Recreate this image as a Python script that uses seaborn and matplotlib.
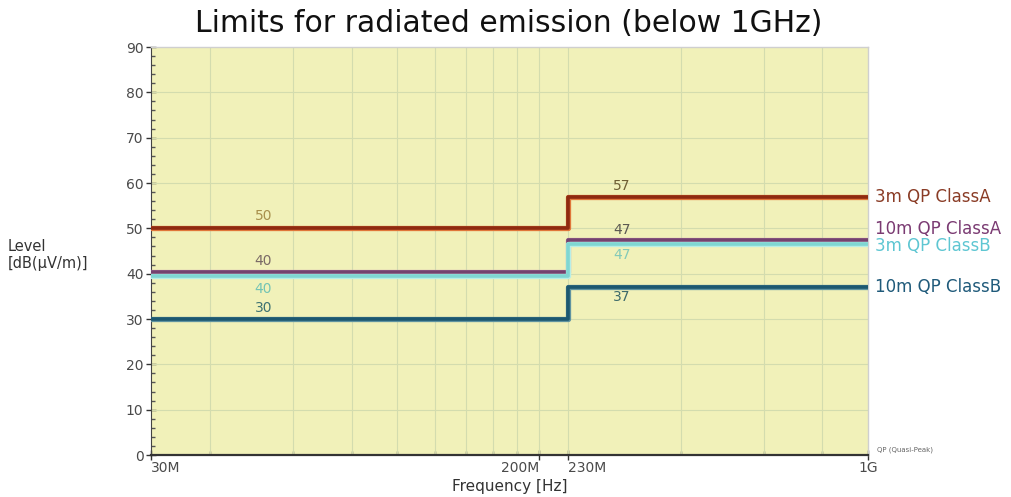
import pandas as pd
import matplotlib.pyplot as plt
import matplotlib.transforms as mtransforms
import matplotlib.patheffects as pe
import seaborn as sns

# limit lines: level below 230MHz, level from 230MHz up to 1GHz
series = ['3m QP ClassA', '10m QP ClassA', '3m QP ClassB', '10m QP ClassB']
low_levels = [50, 40, 40, 30]
high_levels = [57, 47, 47, 37]
freqs_mhz = [30, 230, 1000]   # start, step, end

xtick_vals = [30, 200, 230, 1000]
xtick_labels = ['30M', '200M', '230M', '1G']
grid_freqs = [40, 60, 80, 100, 120, 140, 160, 180, 200, 230, 400, 600, 800]

line_colors = ['#8e2a10', '#74426e', '#7fd6d2', '#1c5870']
glow_colors = ['#e0763a', '#c898b8', '#b8eee6', '#5f93a0']
name_colors = ['#8a3c26', '#7a3a72', '#5ec6d2', '#1f5a7a']
low_txt_colors = ['#a8904c', '#7a6a66', '#74c4b4', '#3d7272']
high_txt_colors = ['#6e5e34', '#5c5a52', '#84cab8', '#3d6a6a']

rows = []
for name, lo, hi in zip(series, low_levels, high_levels):
    for f, v in zip(freqs_mhz, [lo, hi, hi]):
        rows.append({'series': name, 'freq': f, 'level': v})
df = pd.DataFrame(rows)

sns.set_style("white")
plt.rcParams['font.family'] = ['DejaVu Sans']

fig = plt.figure(figsize=(10.11, 4.97), dpi=100)
ax = fig.add_axes([0.1494, 0.0845, 0.7092, 0.8209])
ax.set_facecolor('#f1f1b9')

sns.lineplot(data=df, x='freq', y='level', hue='series', hue_order=series,
             palette=line_colors, drawstyle='steps-post', linewidth=2.6,
             legend=False, ax=ax, zorder=3)

ax.set_xscale('log')
ax.set_xlim(30, 1000)
ax.set_ylim(0, 90)

# glow + slight separation of the two overlapping 40/47 lines
shifts = [0, 1.5, -2.0, 0]
for line, glow, dy in zip(ax.get_lines(), glow_colors, shifts):
    line.set_path_effects([pe.Stroke(linewidth=3.8, foreground=glow), pe.Normal()])
    if dy:
        line.set_transform(mtransforms.offset_copy(line.get_transform(), fig=fig, y=dy, units='dots'))

# grid
for f in grid_freqs:
    ax.axvline(f, color='#d3dcae', lw=0.8, zorder=1)
for y in range(10, 90, 10):
    ax.axhline(y, color='#d3dcae', lw=0.8, zorder=1)

# ticks
ax.set_xticks(xtick_vals)
ax.set_xticklabels(xtick_labels)
ax.set_xticks(grid_freqs, minor=True)
ax.xaxis.set_minor_formatter(plt.NullFormatter())
for lbl, ha in zip(ax.get_xticklabels(), ['left', 'right', 'left', 'center']):
    lbl.set_ha(ha)
ax.set_yticks(range(0, 91, 10))
ax.set_yticks(range(0, 91, 2), minor=True)
ax.tick_params(axis='both', which='major', direction='inout', length=7, width=1,
               color='#333333', labelsize=10, labelcolor='#4a4a4a', pad=1)
ax.tick_params(axis='both', which='minor', direction='in', length=3, width=1, color='#555555')
ax.tick_params(axis='x', which='both', bottom=True)
ax.tick_params(axis='y', which='both', left=True)
ax.tick_params(axis='y', which='major', pad=2)

for side in ['top', 'right']:
    ax.spines[side].set_color('#cfcfcf')
    ax.spines[side].set_linewidth(1)
ax.spines['left'].set_color('#444444')
ax.spines['bottom'].set_color('#333333')
ax.spines['bottom'].set_linewidth(1.6)

# value labels on the lines
low_off = [2.7, 2.7, -3.4, 2.4]
high_off = [2.3, 2.6, -2.8, -2.2]
for i in range(len(series)):
    ax.text(52, low_levels[i] + low_off[i], str(low_levels[i]), color=low_txt_colors[i],
            fontsize=10, ha='center', va='center', zorder=4)
    ax.text(300, high_levels[i] + high_off[i], str(high_levels[i]), color=high_txt_colors[i],
            fontsize=10, ha='center', va='center', zorder=4)

# series names on the right
name_dy = [0, 9, -3, 0]
trans = mtransforms.blended_transform_factory(ax.transAxes, ax.transData)
for name, lvl, col, dy in zip(series, high_levels, name_colors, name_dy):
    ax.annotate(name, xy=(1, lvl), xycoords=trans, xytext=(5, dy), textcoords='offset points',
                color=col, fontsize=12, ha='left', va='center', annotation_clip=False)

ax.text(1.012, 0.012, 'QP (Quasi-Peak)', transform=ax.transAxes, fontsize=5,
        color='#666666', ha='left', va='center')

ax.set_xlabel('Frequency [Hz]', fontsize=11, color='#333333', labelpad=3)
ax.set_ylabel('')
fig.text(0.008, 0.487, 'Level\n[dB(\u03bcV/m)]', fontsize=10.5, color='#333333',
         ha='left', va='center', linespacing=1.1)

fig.suptitle('Limits for radiated emission (below 1GHz)', fontsize=21.5, color='#111111',
             x=0.503, y=0.982, va='top')

plt.savefig('out.png', dpi=100)
plt.close()
